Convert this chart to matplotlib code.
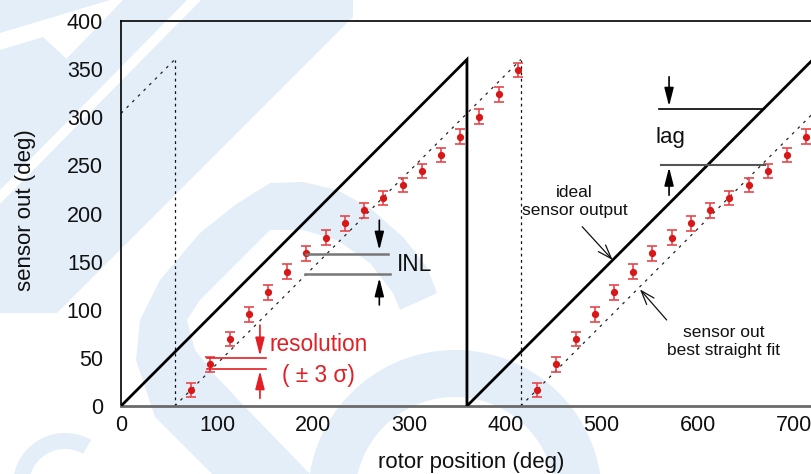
import matplotlib
matplotlib.use('Agg')
import matplotlib.pyplot as plt
import numpy as np
from matplotlib.patches import Polygon

plt.rcParams['font.family'] = ['Liberation Sans', 'DejaVu Sans']

# ---------------- data ----------------
x_ticks = [0, 100, 200, 300, 400, 500, 600, 700]
y_ticks = [0, 50, 100, 150, 200, 250, 300, 350, 400]

ideal_x = [0, 360, 360, 720]
ideal_y = [0, 360, 0, 360]

lag = 56
fit_x1, fit_y1 = [0, 56], [304, 360]
fit_x2, fit_y2 = [56, 416], [0, 360]
fit_x3, fit_y3 = [416, 720], [0, 304]
vline1_x, vline1_y = [56, 56], [0, 360]
vline2_x, vline2_y = [416, 416], [0, 360]

pos_cycle1 = [73, 93, 113, 133, 153, 173, 193, 213, 233, 253, 273, 293, 313, 333, 353, 373, 393, 413]
out_cycle1 = [16.6, 43.3, 69.6, 95.2, 118.1, 139.6, 158.6, 174.9, 189.8, 203.3, 216.1, 229.6,
              244.2, 260.8, 279.8, 300.6, 323.8, 349.1]
pos_cycle2 = [433, 453, 473, 493, 513, 533, 553, 573, 593, 613, 633, 653, 673, 693, 713]
out_cycle2 = [16.6, 43.3, 69.6, 95.2, 118.1, 139.6, 158.6, 174.9, 189.8, 203.3, 216.1, 229.6,
              244.2, 260.8, 279.8]
err_3sigma = 7.5

# ---------------- figure ----------------
fig = plt.figure(figsize=(8.11, 4.74), dpi=100)

# light-blue watermark in the background (figure pixel coordinates)
bg = fig.add_axes([0, 0, 1, 1], zorder=0)
bg.set_xlim(0, 811)
bg.set_ylim(474, 0)
bg.axis('off')
wm = '#e4eef8'


def arc_poly(cx, cy, R, r, t1, t2, n=120):
    t = np.radians(np.linspace(t1, t2, n))
    outer = np.column_stack([cx + R * np.cos(t), cy - R * np.sin(t)])
    inner = np.column_stack([cx + r * np.cos(t[::-1]), cy - r * np.sin(t[::-1])])
    return np.vstack([outer, inner])


shapes = [
    [(0, 0), (110, 0), (0, 33)],
    [(0, 50), (43, 37), (97, 87), (0, 180)],
    [(123, 0), (187, 0), (0, 190), (0, 128)],
    [(201, 0), (353, 0), (353, 17), (57, 313), (0, 313), (0, 204)],
    [(212, 474), (155, 417), (136, 360), (140, 320), (160, 280), (200, 233), (235, 205),
     (270, 183), (303, 182), (337, 190), (370, 208), (403, 237), (427, 267), (437, 293),
     (400, 310), (393, 293), (370, 263), (337, 240), (303, 230), (270, 230), (233, 267),
     (200, 300), (187, 320), (195, 350), (215, 375), (248, 410), (310, 474)],
]
for s in shapes:
    bg.add_patch(Polygon(s, closed=True, facecolor=wm, edgecolor='none'))
bg.add_patch(Polygon(arc_poly(455, 497, 147, 100, 0, 360), closed=True, facecolor=wm, edgecolor='none'))
bg.add_patch(Polygon(arc_poly(65, 485, 52, 36, 60, 200), closed=True, facecolor=wm, edgecolor='none'))

ax = fig.add_axes([121 / 811, 68 / 474, 690 / 811, 385 / 474], zorder=1)
ax.set_facecolor('none')
ax.set_xlim(0, 718)
ax.set_ylim(0, 400)

# spines
ax.spines['right'].set_visible(False)
ax.spines['top'].set_linewidth(1.2)
ax.spines['left'].set_linewidth(1.2)
ax.spines['bottom'].set_color('#6a6a6a')
ax.spines['bottom'].set_linewidth(2.0)

ax.set_xticks(x_ticks)
ax.set_yticks(y_ticks)
ax.tick_params(axis='both', length=0, labelsize=15.5, colors='#111111')
ax.tick_params(axis='x', pad=6.5)
ax.tick_params(axis='y', pad=13)

ax.set_xlabel('rotor position (deg)', fontsize=16, color='#111111')
ax.xaxis.set_label_coords(0.507, -0.1455)
ax.xaxis.label.set_va('center')
ax.set_ylabel('sensor out (deg)', fontsize=16, color='#111111')
ax.yaxis.set_label_coords(-0.139, 0.509)
ax.yaxis.label.set_va('center')

# ideal sawtooth
ax.plot(ideal_x, ideal_y, color='black', lw=2.0, solid_joinstyle='miter', zorder=3, clip_on=True)

# best straight fit (dotted)
fit_style = dict(color='#222222', lw=0.9, ls=(0, (2.2, 4.2)), zorder=2)
ax.plot(fit_x1, fit_y1, **fit_style)
ax.plot(fit_x2, fit_y2, **fit_style)
ax.plot(fit_x3, fit_y3, **fit_style)
vstyle = dict(color='#111111', lw=0.9, ls=(0, (2.2, 2.8)), zorder=2)
ax.plot(vline1_x, vline1_y, **vstyle)
ax.plot(vline2_x, vline2_y, **vstyle)

# measured points with error bars
eb = dict(fmt='o', color='#d81818', ms=4.2, ecolor='#e8464a', elinewidth=1.2,
          capsize=3.6, capthick=1.2, zorder=4)
ax.errorbar(pos_cycle1, out_cycle1, yerr=err_3sigma, **eb)
ax.errorbar(pos_cycle2, out_cycle2, yerr=err_3sigma, **eb)

red = '#e31e24'


def arrow(x0, y0, x1, y1, color, lw=1.2):
    ax.annotate('', xy=(x1, y1), xytext=(x0, y0),
                arrowprops=dict(arrowstyle='-|>,head_length=1.1,head_width=0.28',
                                mutation_scale=10, color=color, lw=lw,
                                shrinkA=0, shrinkB=0), zorder=5)


# resolution annotation
ax.plot([89, 150.6], [50.2, 50.2], color=red, lw=1.2, zorder=5)
ax.plot([89, 150.6], [38.1, 38.1], color=red, lw=1.2, zorder=5)
arrow(144.6, 84, 144.6, 52, red)
arrow(144.6, 8, 144.6, 36.5, red)
ax.text(155, 63.4, 'resolution', color=red, fontsize=16.3, ha='left', va='center', zorder=5)
ax.text(205, 32.2, '( ± 3 σ)', color=red, fontsize=16.3, ha='center', va='center', zorder=5)

# INL annotation
ax.plot([193, 277.5], [157.6, 157.6], color='#777777', lw=1.8, zorder=5)
ax.plot([191.5, 280], [137.5, 137.5], color='#777777', lw=1.8, zorder=5)
arrow(268.8, 193, 268.8, 162, 'black')
arrow(268.8, 105, 268.8, 133, 'black')
ax.text(287.5, 147.5, 'INL', color='#111111', fontsize=16.3, ha='left', va='center', zorder=5)

# lag annotation
ax.plot([560.2, 669], [308.2, 308.2], color='black', lw=1.2, zorder=5)
ax.plot([561.9, 670], [250.4, 250.4], color='#555555', lw=1.5, zorder=5)
arrow(570.3, 342, 570.3, 311.5, 'black')
arrow(570.3, 219, 570.3, 248, 'black')
ax.text(571.6, 279, 'lag', color='#111111', fontsize=16, ha='center', va='center', zorder=5)

# labels with pointer arrows
ax.text(472, 212, 'ideal\nsensor output', color='#111111', fontsize=12.5,
        ha='center', va='center', linespacing=1.25, zorder=5)
ax.annotate('', xy=(511.6, 151.7), xytext=(479.9, 186.3),
            arrowprops=dict(arrowstyle='->,head_length=1.0,head_width=0.35', mutation_scale=10,
                            color='#111111', lw=0.9, shrinkA=0, shrinkB=0), zorder=5)
ax.text(627, 67, 'sensor out\nbest straight fit', color='#111111', fontsize=12.5,
        ha='center', va='center', linespacing=1.25, zorder=5)
ax.annotate('', xy=(540, 121.2), xytext=(567.8, 89.4),
            arrowprops=dict(arrowstyle='->,head_length=1.0,head_width=0.35', mutation_scale=10,
                            color='#111111', lw=0.9, shrinkA=0, shrinkB=0), zorder=5)

fig.savefig('out.png', dpi=100)
